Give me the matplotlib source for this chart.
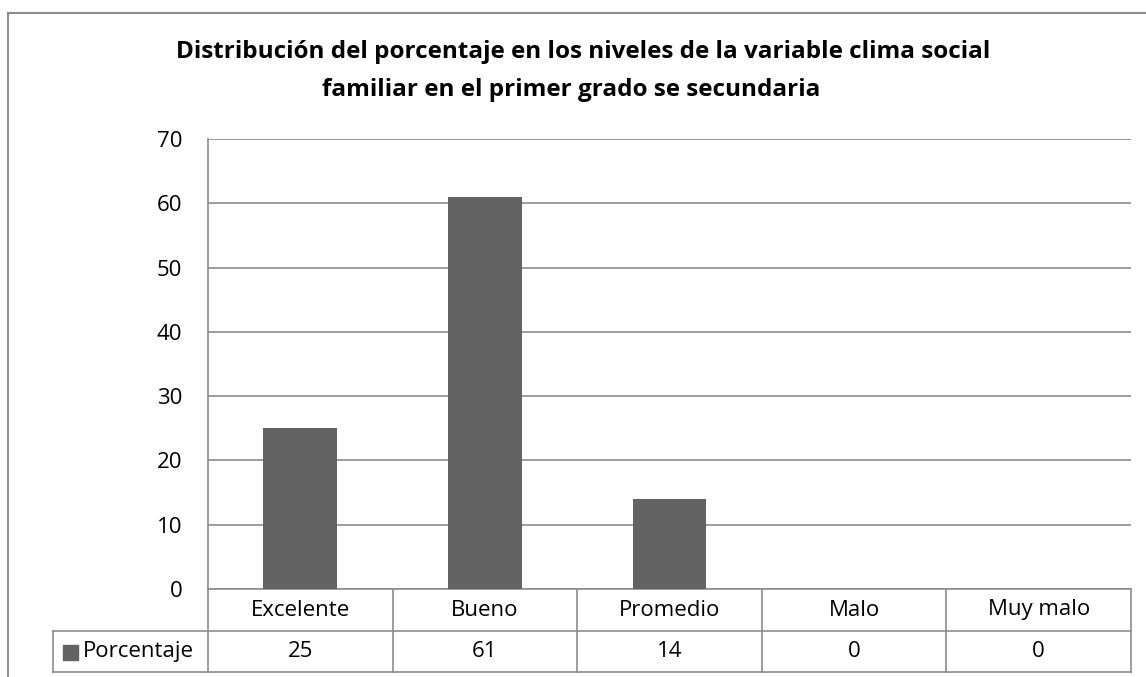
import numpy as np
import matplotlib.pyplot as plt
import matplotlib.transforms as mtransforms
from matplotlib.lines import Line2D
from matplotlib.patches import Rectangle

# data
categorias = ["Excelente", "Bueno", "Promedio", "Malo", "Muy malo"]
porcentaje = [25, 61, 14, 0, 0]
serie = "Porcentaje"
titulo_1 = "Distribución del porcentaje en los niveles de la variable clima social"
titulo_2 = "familiar en el primer grado se secundaria"

plt.rcParams['font.family'] = ['Open Sans', 'DejaVu Sans']

W, H = 1146, 677
bar_col = "#636363"
line_col = "#8c8c8c"
fs = 16

fig = plt.figure(figsize=(W / 100, H / 100), dpi=100)

# plot area in pixels: left 208, right 1131, top 139, zero line 589
ax = fig.add_axes([208 / W, 1 - 589 / H, (1131 - 208) / W, (589 - 139) / H])
x = np.arange(len(categorias))
ax.bar(x, porcentaje, width=0.4, color=bar_col, zorder=3)
ax.set_xlim(-0.5, len(categorias) - 0.5)
ax.set_ylim(0, 70)
ax.set_yticks(range(0, 71, 10))
ax.tick_params(axis="y", length=0, pad=18.5, labelsize=fs)
ax.set_xticks([])
ax.yaxis.grid(True, color=line_col, linewidth=1.2, zorder=0)
for s in ["top", "right", "bottom"]:
    ax.spines[s].set_visible(False)
ax.spines["left"].set_color(line_col)
ax.spines["left"].set_linewidth(1.2)

# data table below the axis (x in data units, y in axes fraction)
tr = mtransforms.blended_transform_factory(ax.transData, ax.transAxes)
ph = 589 - 139
r1 = -(631 - 589) / ph
r2 = -(672 - 589) / ph
leg_left = -0.5 - (208 - 53) / ((1131 - 208) / len(categorias))
n = len(categorias)

def hline(x0, x1, y):
    ax.add_line(Line2D([x0, x1], [y, y], transform=tr, color=line_col,
                       linewidth=1.2, clip_on=False))

def vline(xx, y0, y1):
    ax.add_line(Line2D([xx, xx], [y0, y1], transform=tr, color=line_col,
                       linewidth=1.2, clip_on=False))

hline(-0.5, n - 0.5, 0)
hline(leg_left, n - 0.5, r1)
hline(leg_left, n - 0.5, r2)
for i in range(n + 1):
    vline(i - 0.5, 0, r2)
vline(leg_left, r1, r2)

for i, (c, v) in enumerate(zip(categorias, porcentaje)):
    ax.text(i, r1 / 2, c, transform=tr, ha="center", va="center", fontsize=fs)
    ax.text(i, (r1 + r2) / 2, str(v), transform=tr, ha="center", va="center",
            fontsize=fs)

# legend key inside the table
fig.patches.append(Rectangle((63 / W, 1 - 660 / H), 15 / W, 15 / H,
                             transform=fig.transFigure, color=bar_col))
fig.text(83 / W, 1 - 652 / H, serie, ha="left", va="center", fontsize=fs)

# chart frame (cropped on right and bottom)
fig.add_artist(Line2D([8 / W, 8 / W], [0, 1 - 13 / H], transform=fig.transFigure,
                      color=line_col, linewidth=1.5))
fig.add_artist(Line2D([8 / W, 1], [1 - 13 / H, 1 - 13 / H], transform=fig.transFigure,
                      color=line_col, linewidth=1.5))

fig.text(583 / W, 1 - 52 / H, titulo_1, ha="center", va="center", fontsize=17.5,
         fontweight="bold")
fig.text(571 / W, 1 - 90 / H, titulo_2, ha="center", va="center", fontsize=17.5,
         fontweight="bold")

fig.savefig("out.png", dpi=100)
